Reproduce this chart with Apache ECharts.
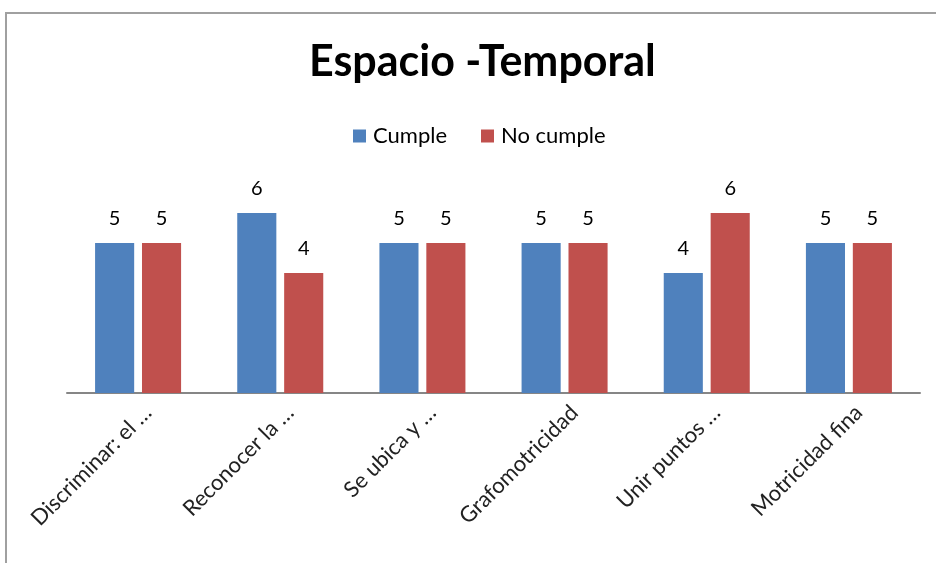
<!DOCTYPE html>
<html>
<head>
<meta charset="utf-8">
<script src="https://cdn.jsdelivr.net/npm/echarts@6/dist/echarts.min.js"></script>
<style>
  html, body { margin: 0; padding: 0; background: #fff; }
  #chart { width: 936px; height: 563px; }
  /* marco gris del gráfico */
  .frame { position: absolute; left: 5px; top: 12px; width: 940px; height: 560px;
           border-left: 2px solid #a0a0a0; border-top: 2px solid #a0a0a0; pointer-events: none; }
</style>
</head>
<body>
<div id="chart"></div>
<div class="frame"></div>
<script>
// datos
const categories = ['Discriminar: el …', 'Reconocer la …', 'Se ubica y …', 'Grafomotricidad', 'Unir puntos …', 'Motricidad fina']
const cumple = [5, 6, 5, 5, 4, 5]
const noCumple = [5, 4, 5, 5, 6, 5]

const chart = echarts.init(document.getElementById('chart'))

const labelStyle = {
  show: true,
  position: 'top',
  distance: 14,
  fontSize: 20,
  color: '#000',
  fontFamily: 'Lato'
}

const option = {
  animation: false,
  title: {
    text: 'Espacio -Temporal',
    left: 304,
    top: 36,
    textStyle: {
      fontSize: 43,
      fontWeight: 'bold',
      color: '#000',
      fontFamily: 'Lato'
    }
  },
  legend: {
    top: 120,
    left: 348,
    itemWidth: 13,
    itemHeight: 13,
    itemGap: 34,
    icon: 'rect',
    textStyle: { fontSize: 22, color: '#000', fontFamily: 'Lato', padding: [0, 0, 0, 2] },
    data: ['Cumple', 'No cumple']
  },
  grid: {
    left: 67,
    right: 16,
    top: 183,
    bottom: 170
  },
  xAxis: {
    type: 'category',
    data: categories,
    axisLine: { lineStyle: { color: '#868686', width: 2 } },
    axisTick: { show: false },
    axisLabel: {
      rotate: 45,
      interval: 0,
      margin: 26,
      fontSize: 22,
      color: '#222',
      fontFamily: 'Lato',
      padding: [0, -14, 0, 0]
    }
  },
  yAxis: {
    type: 'value',
    min: 0,
    max: 7,
    interval: 1,
    show: false,
    splitLine: { show: false }
  },
  series: [
    {
      name: 'Cumple',
      type: 'bar',
      data: cumple,
      barWidth: '27.5%',
      barGap: '20%',
      itemStyle: { color: '#4F81BD' },
      label: labelStyle
    },
    {
      name: 'No cumple',
      type: 'bar',
      data: noCumple,
      barWidth: '27.5%',
      itemStyle: { color: '#C0504D' },
      label: labelStyle
    }
  ]
}

chart.setOption(option)
</script>
</body>
</html>
